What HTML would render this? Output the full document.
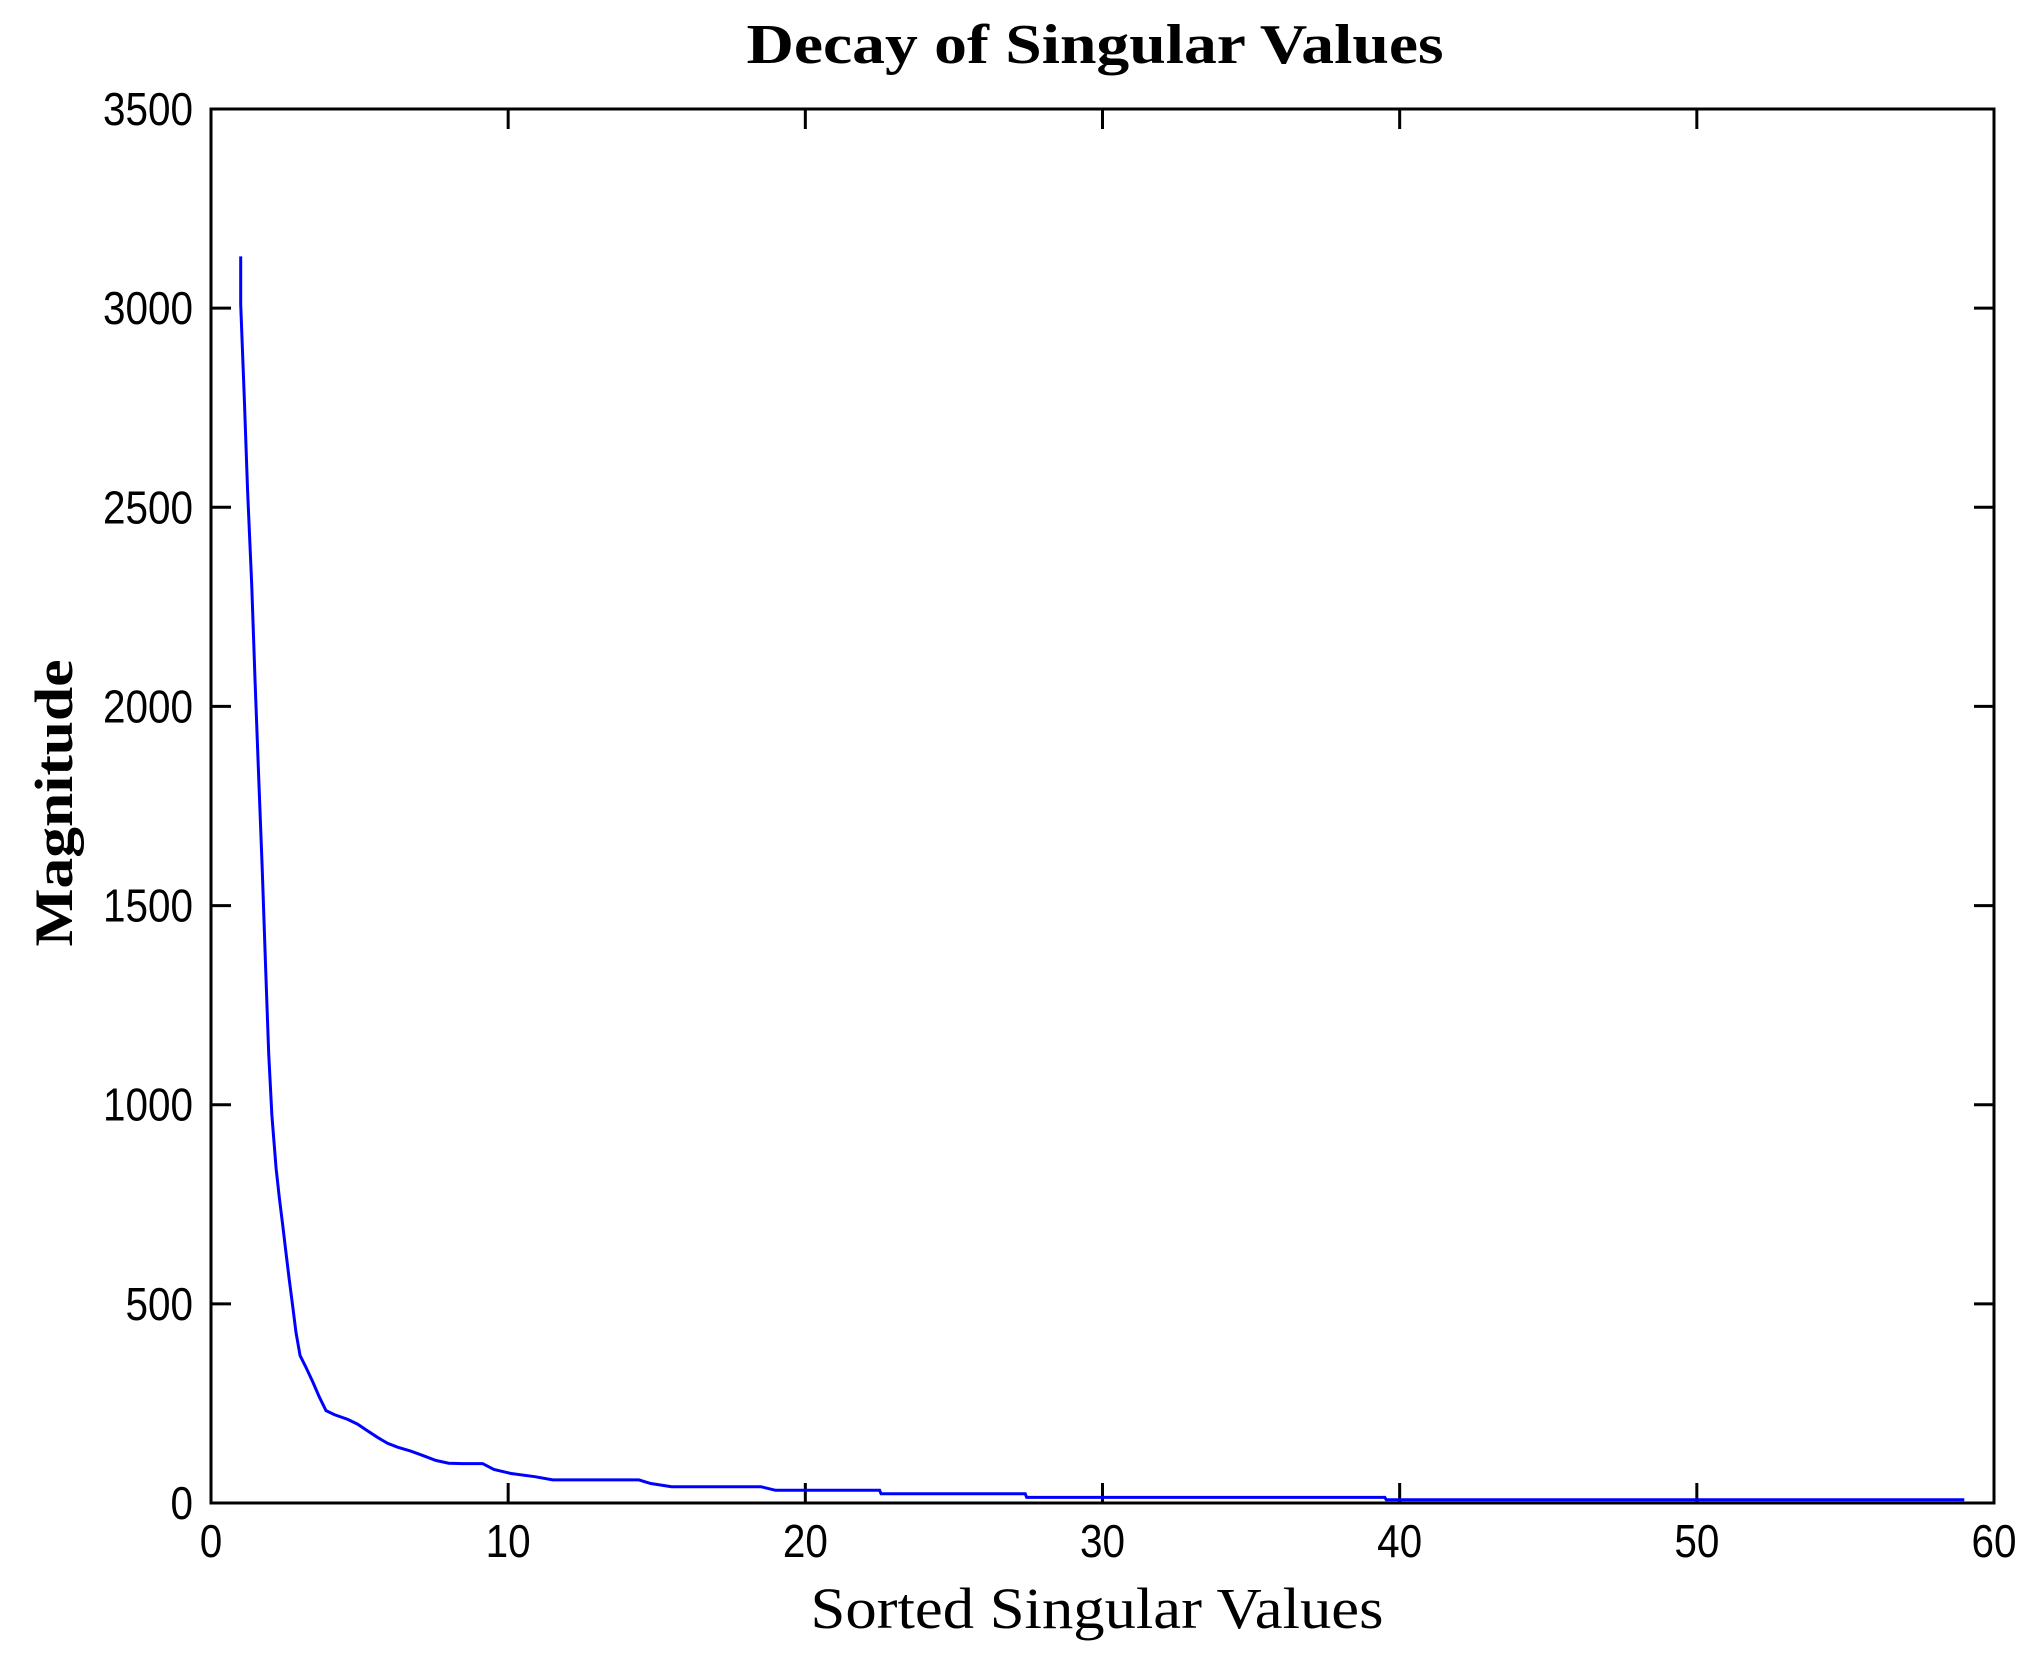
<!DOCTYPE html>
<html><head><meta charset="utf-8"><style>
html,body{margin:0;padding:0;background:#fff;}
svg{display:block;}
</style></head><body>
<svg id="chart" width="2038" height="1668" viewBox="0 0 2038 1668" xmlns="http://www.w3.org/2000/svg">
<rect width="2038" height="1668" fill="#fff"/>
<text x="1095" y="63" text-anchor="middle" font-family="Liberation Serif, serif" font-weight="bold" font-size="56" textLength="697" lengthAdjust="spacingAndGlyphs">Decay of Singular Values</text>
<text x="1097" y="1628" text-anchor="middle" font-family="Liberation Serif, serif" font-size="58" textLength="573" lengthAdjust="spacingAndGlyphs">Sorted Singular Values</text>
<text transform="translate(72,803) rotate(-90)" text-anchor="middle" font-family="Liberation Serif, serif" font-weight="bold" font-size="54" textLength="287" lengthAdjust="spacingAndGlyphs">Magnitude</text>
<g id="ticks"></g>
<g id="labels"></g>
<polyline id="series" fill="none" stroke="#0000ff" stroke-width="3" stroke-linejoin="miter"/>
<rect x="211" y="109" width="1783" height="1394" fill="none" stroke="#000" stroke-width="3"/>
</svg>
<script>
const seriesX = [1,1.0,1.12,1.23,1.37,1.48,1.6,1.72,1.83,1.94,2.05,2.19,2.3,2.41,2.52,2.63,2.75,2.86,3.0,3.2,3.42,3.64,3.87,4.15,4.6,4.93,5.27,5.6,5.94,6.28,6.73,7.1,7.56,8.0,8.47,9.14,9.52,10.1,10.9,11.5,14.4,14.8,15.5,18.5,19.0,22.5,22.55,27.4,27.45,39.5,39.55,59.0];
const seriesY = [3130,3010,2774,2541,2307,2068,1835,1601,1360,1128,973,840,767,700,630,562,494,428,370,340,305,267,232,222,210,198,181,165,150,140,130,120,107,100,99,99,84,74,66,58,58,49,41,41,32,32,23,23,14,14,8,8];
const xTicks = [0,10,20,30,40,50,60];
const yTicks = [0,500,1000,1500,2000,2500,3000,3500];
const xMin = 0, xMax = 60, yMin = 0, yMax = 3500;
const L = 211, R = 1994, T = 109, B = 1503;
function sx(v){ return L + (v - xMin) / (xMax - xMin) * (R - L); }
function sy(v){ return B - (v - yMin) / (yMax - yMin) * (B - T); }
const NS = 'http://www.w3.org/2000/svg';
const tg = document.getElementById('ticks');
const lg = document.getElementById('labels');
function line(x1,y1,x2,y2,name){
  const l = document.createElementNS(NS,'line');
  l.setAttribute('x1',x1); l.setAttribute('y1',y1); l.setAttribute('x2',x2); l.setAttribute('y2',y2);
  l.setAttribute('stroke','#000'); l.setAttribute('stroke-width','3');
  
  
  tg.appendChild(l);
}
function label(x,y,txt,anchor,name){
  const t = document.createElementNS(NS,'text');
  t.setAttribute('x',x); t.setAttribute('y',y);
  t.setAttribute('text-anchor',anchor);
  t.setAttribute('font-family','Liberation Sans, sans-serif');
  t.setAttribute('font-size','46');
  t.setAttribute('textLength', String(txt.length*22.5));
  t.setAttribute('lengthAdjust','spacingAndGlyphs');
  t.textContent = txt;
  
  
  lg.appendChild(t);
}
xTicks.forEach(v=>{
  const x = sx(v);
  line(x,B,x,B-20,'x-tick');
  line(x,T,x,T+20,'x-tick-top');
  label(x,1557,String(v),'middle','x-tick-label');
});
yTicks.forEach(v=>{
  const y = sy(v);
  line(L,y,L+20,y,'y-tick');
  line(R,y,R-20,y,'y-tick-right');
  label(193,y+16,String(v),'end','y-tick-label');
});
const pts = seriesX.map((x,i)=> sx(x).toFixed(1)+','+sy(seriesY[i]).toFixed(1)).join(' ');
document.getElementById('series').setAttribute('points', pts);
</script>
</body></html>
